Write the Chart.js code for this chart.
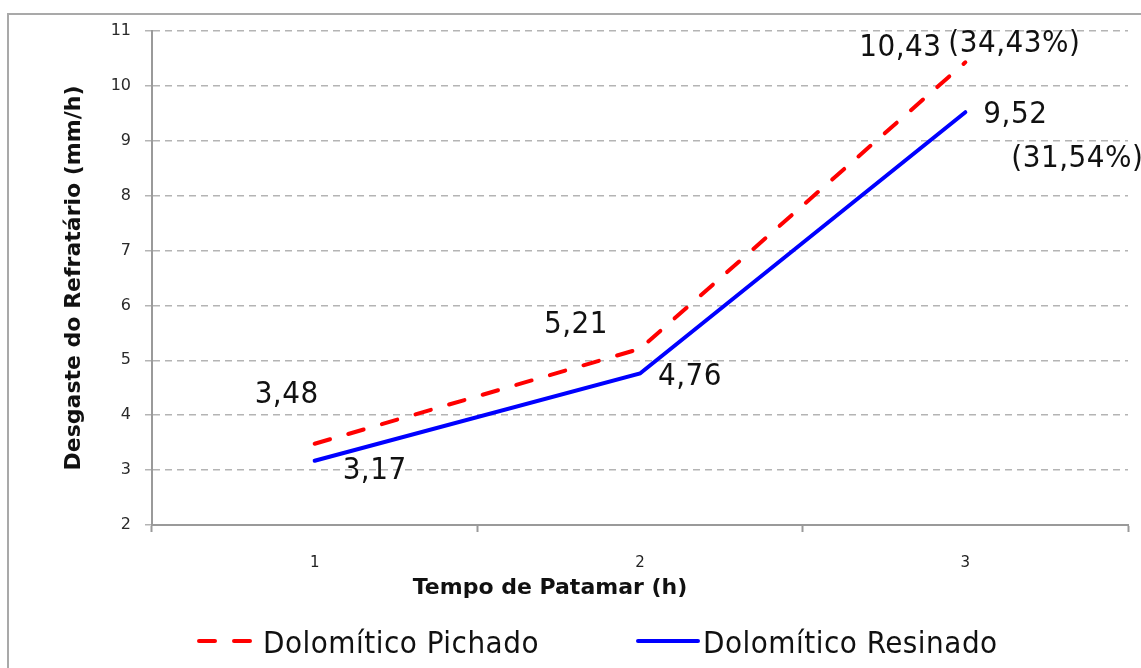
<!DOCTYPE html>
<html>
<head>
<meta charset="utf-8">
<script src="https://cdn.jsdelivr.net/npm/chart.js@4.4.1/dist/chart.umd.min.js"></script>
<style>
  html, body { margin: 0; padding: 0; background: #fff; }
  #wrap { position: relative; width: 1141px; height: 668px; overflow: hidden; }
  #frame { position: absolute; left: 7px; top: 13px; width: 1180px; height: 720px;
           border: 2px solid #a9a9a9; box-sizing: border-box; }
  #c { position: absolute; left: 0; top: 0; }
</style>
</head>
<body>
<div id="wrap">
  <div id="frame"></div>
  <canvas id="c" width="1141" height="668"></canvas>
</div>
<script>
// Tempo de patamar (h)
const categories = ['1', '2', '3'];
// Desgaste do refratário (mm/h)
const pichado = [3.48, 5.21, 10.43];
const resinado = [3.17, 4.76, 9.52];
// Aumento relativo no último patamar
const pichadoPct = [null, null, '(34,43%)'];
const resinadoPct = [null, null, '(31,54%)'];
const seriesNames = ['Dolomítico Pichado', 'Dolomítico Resinado'];
const yMin = 2, yMax = 11, yStep = 1;
const xTitle = 'Tempo de Patamar (h)';
const yTitle = 'Desgaste do Refratário (mm/h)';

const LABEL_FONT = '31px "DejaVu Sans Condensed", "DejaVu Sans", sans-serif';

const fmt = v => v.toFixed(2).replace('.', ',');

// offsets (px) of each value label from its point, per series
const valueOffsets = [
  [[-28, -49], [-64, -24], [-65, -14]],
  [[60, 10], [50, 3], [50, 3]]
];
const pctOffsets = [
  [null, null, [49, -18]],
  [null, null, [112, 47]]
];

const labelsPlugin = {
  id: 'valueLabels',
  afterDatasetsDraw(chart) {
    const ctx = chart.ctx;
    ctx.save();
    ctx.font = LABEL_FONT;
    ctx.letterSpacing = '0.5px';
    ctx.fillStyle = '#111';
    ctx.textAlign = 'center';
    ctx.textBaseline = 'middle';
    const pcts = [pichadoPct, resinadoPct];
    chart.data.datasets.forEach((ds, i) => {
      const meta = chart.getDatasetMeta(i);
      meta.data.forEach((pt, j) => {
        const o = valueOffsets[i][j];
        ctx.fillText(fmt(ds.data[j]), pt.x + o[0], pt.y + o[1]);
        if (pcts[i][j]) {
          const p = pctOffsets[i][j];
          ctx.fillText(pcts[i][j], pt.x + p[0], pt.y + p[1]);
        }
      });
    });
    ctx.restore();
  }
};

const extrasPlugin = {
  id: 'extras',
  afterDraw(chart) {
    const ctx = chart.ctx;
    ctx.save();
    // x axis title
    ctx.font = 'bold 22px "DejaVu Sans", sans-serif';
    ctx.fillStyle = '#111';
    ctx.textAlign = 'center';
    ctx.textBaseline = 'middle';
    ctx.fillText(xTitle, 550, 588);
    // legend
    const items = [
      { x0: 199, x1: 255, tx: 263 },
      { x0: 638, x1: 698, tx: 703 }
    ];
    const ly = 641;
    chart.data.datasets.forEach((ds, i) => {
      const it = items[i];
      ctx.beginPath();
      ctx.strokeStyle = ds.borderColor;
      ctx.lineWidth = ds.borderWidth;
      ctx.lineCap = ds.borderCapStyle || 'butt';
      ctx.setLineDash(ds.borderDash || []);
      ctx.moveTo(it.x0, ly);
      ctx.lineTo(it.x1, ly);
      ctx.stroke();
      ctx.setLineDash([]);
      ctx.font = LABEL_FONT;
      ctx.letterSpacing = '0.5px';
      ctx.fillStyle = '#111';
      ctx.textAlign = 'left';
      ctx.textBaseline = 'alphabetic';
      ctx.fillText(ds.label, it.tx, 653);
    });
    ctx.restore();
  }
};

new Chart(document.getElementById('c'), {
  type: 'line',
  data: {
    labels: categories,
    datasets: [
      {
        label: seriesNames[0],
        data: pichado,
        borderColor: '#ff0000',
        borderWidth: 4,
        borderDash: [16, 19],
        borderCapStyle: 'round',
        pointRadius: 0,
        tension: 0,
        fill: false
      },
      {
        label: seriesNames[1],
        data: resinado,
        borderColor: '#0000ff',
        borderWidth: 4,
        borderCapStyle: 'round',
        pointRadius: 0,
        tension: 0,
        fill: false
      }
    ]
  },
  options: {
    responsive: false,
    animation: false,
    layout: { padding: { left: 59, right: 13, top: 31, bottom: 93 } },
    plugins: { legend: { display: false }, tooltip: { enabled: false } },
    scales: {
      x: {
        type: 'category',
        offset: true,
        afterFit(scale) { scale.height = 50; },
        grid: {
          offset: true,
          drawOnChartArea: false,
          drawTicks: true,
          tickLength: 7,
          tickColor: '#9a9a9a',
          tickWidth: 2
        },
        border: { color: '#9a9a9a', width: 2 },
        ticks: {
          color: '#222',
          padding: 22,
          font: { family: '"DejaVu Sans", sans-serif', size: 15 }
        }
      },
      y: {
        min: yMin,
        max: yMax,
        afterFit(scale) { scale.width = 93; },
        ticks: {
          stepSize: yStep,
          color: '#2a2a2a',
          padding: 14,
          font: { family: '"DejaVu Sans", sans-serif', size: 16 }
        },
        grid: {
          color: '#b4b4b4',
          lineWidth: 1.5,
          drawTicks: true,
          tickLength: 7,
          tickColor: '#b4b4b4'
        },
        border: { color: '#9a9a9a', width: 2, dash: [7, 5] },
        title: {
          display: true,
          text: yTitle,
          color: '#111',
          padding: { top: 2, bottom: 2 },
          font: { family: '"DejaVu Sans", sans-serif', size: 22, weight: 'bold' }
        }
      }
    }
  },
  plugins: [labelsPlugin, extrasPlugin]
});
</script>
</body>
</html>
